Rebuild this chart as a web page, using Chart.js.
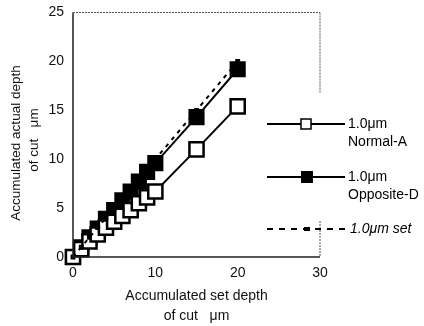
<!DOCTYPE html>
<html>
<script src="https://cdn.jsdelivr.net/npm/chart.js@4/dist/chart.umd.min.js"></script>
<body style="margin:0;background:#fff">
<div style="width:424px;height:326px"><canvas id="myChart"></canvas></div>
<script>
var setDepth = [0, 1, 2, 3, 4, 5, 6, 7, 8, 9, 10, 15, 20];
var normalA = [0, 0.8, 1.6, 2.3, 3.0, 3.6, 4.2, 4.8, 5.5, 6.1, 6.7, 11.0, 15.4];
var oppositeD = [0, 1.0, 2.0, 2.9, 3.9, 4.8, 5.8, 6.7, 7.7, 8.7, 9.6, 14.3, 19.2];
var setLine = [0, 1.0, 2.0, 3.0, 4.0, 5.0, 6.0, 7.0, 8.0, 9.0, 10.0, 15.0, 20.0];
var xTicks = [0, 10, 20, 30];
var yTicks = [0, 5, 10, 15, 20, 25];
var yTitle = ["Accumulated actual depth", "of cut   \u03bcm"];

function pts(ys) {
  return setDepth.map(function (x, i) { return {x: x, y: ys[i]}; });
}

Chart.defaults.font.family = "'Liberation Sans', Arial, sans-serif";
Chart.defaults.color = "#111";

// frame, y title + legend drawn by hand, like the scanned figure
var framePlugin = {
  id: "frame",
  afterDraw: function (chart) {
    var ctx = chart.ctx, a = chart.chartArea;
    ctx.save();
    ctx.strokeStyle = "#222";
    ctx.lineWidth = 1.5;
    ctx.beginPath();
    ctx.moveTo(a.left, a.top); ctx.lineTo(a.left, a.bottom); ctx.lineTo(a.right, a.bottom);
    ctx.stroke();
    ctx.lineWidth = 1;
    ctx.strokeStyle = "#555";
    ctx.setLineDash([2, 1]);
    ctx.beginPath();
    ctx.moveTo(a.left, a.top); ctx.lineTo(a.right, a.top);
    ctx.moveTo(a.right, a.top); ctx.lineTo(a.right, 93);
    ctx.moveTo(a.right, 221); ctx.lineTo(a.right, a.bottom);
    ctx.stroke();
    ctx.setLineDash([]);

    // y title
    ctx.fillStyle = "#111";
    ctx.font = "13.5px 'Liberation Sans', Arial, sans-serif";
    ctx.textAlign = "center";
    ctx.textBaseline = "middle";
    ctx.save();
    ctx.translate(16, 143); ctx.rotate(-Math.PI / 2);
    ctx.fillText(yTitle[0], 0, 0);
    ctx.restore();
    ctx.save();
    ctx.translate(34, 140); ctx.rotate(-Math.PI / 2);
    ctx.fillText(yTitle[1], 0, 0);
    ctx.restore();

    // legend
    ctx.textAlign = "left";
    ctx.strokeStyle = "#000";
    ctx.fillStyle = "#000";
    ctx.font = "14px 'Liberation Sans', Arial, sans-serif";
    ctx.lineWidth = 2;
    ctx.beginPath(); ctx.moveTo(267, 124); ctx.lineTo(345, 124); ctx.stroke();
    ctx.fillStyle = "#fff"; ctx.fillRect(301, 119, 10, 10);
    ctx.lineWidth = 1.5; ctx.strokeRect(301, 119, 10, 10);
    ctx.fillStyle = "#000";
    ctx.fillText("1.0\u03bcm", 348, 124);
    ctx.fillText("Normal-A", 348, 142);

    ctx.lineWidth = 2;
    ctx.beginPath(); ctx.moveTo(267, 177); ctx.lineTo(345, 177); ctx.stroke();
    ctx.fillRect(301, 171, 12, 12);
    ctx.fillText("1.0\u03bcm", 348, 177);
    ctx.fillText("Opposite-D", 348, 195);

    ctx.setLineDash([6, 6]);
    ctx.beginPath(); ctx.moveTo(267, 229); ctx.lineTo(345, 229); ctx.stroke();
    ctx.setLineDash([]);
    ctx.fillRect(304, 227, 6, 4);
    ctx.font = "italic 14px 'Liberation Sans', Arial, sans-serif";
    ctx.fillText("1.0\u03bcm set", 350, 229);
    ctx.restore();
  }
};

new Chart("myChart", {
  type: "scatter",
  data: {
    datasets: [{
      label: "1.0\u03bcm set",
      data: pts(setLine),
      showLine: true,
      borderColor: "#000",
      backgroundColor: "#000",
      borderWidth: 2,
      borderDash: [4, 5],
      pointStyle: "rect",
      pointRadius: 2,
      clip: false
    }, {
      label: "1.0\u03bcm Normal-A",
      data: pts(normalA),
      showLine: true,
      borderColor: "#000",
      backgroundColor: "#fff",
      borderWidth: 2,
      pointStyle: "rect",
      pointRadius: 10,
      pointBorderWidth: 2.5,
      clip: false
    }, {
      label: "1.0\u03bcm Opposite-D",
      data: pts(oppositeD),
      showLine: true,
      borderColor: "#000",
      backgroundColor: "#000",
      borderWidth: 2,
      pointStyle: "rect",
      pointRadius: 10,
      clip: false
    }]
  },
  options: {
    responsive: true,
    maintainAspectRatio: false,
    animation: false,
    layout: {padding: {top: 12, right: 104, left: 0, bottom: 0}},
    plugins: {legend: {display: false}, tooltip: {enabled: false}},
    scales: {
      x: {
        type: "linear", min: 0, max: 30,
        afterBuildTicks: function (s) { s.ticks = xTicks.map(function (v) { return {value: v}; }); },
        afterFit: function (s) { s.height = 69; s.paddingLeft = 0; s.paddingRight = 0; },
        grid: {display: false, drawTicks: false},
        border: {display: false},
        ticks: {font: {size: 14}, padding: 8},
        title: {display: true, text: ["Accumulated set depth", "of cut   \u03bcm"], font: {size: 14, lineHeight: 1.4}, padding: {top: 4, bottom: 0}}
      },
      y: {
        type: "linear", min: 0, max: 25,
        afterBuildTicks: function (s) { s.ticks = yTicks.map(function (v) { return {value: v}; }); },
        afterFit: function (s) { s.width = 73; s.paddingTop = 0; s.paddingBottom = 0; },
        grid: {display: false, drawTicks: false},
        border: {display: false},
        ticks: {font: {size: 14}, padding: 9}
      }
    }
  },
  plugins: [framePlugin]
});
</script>
</body>
</html>
